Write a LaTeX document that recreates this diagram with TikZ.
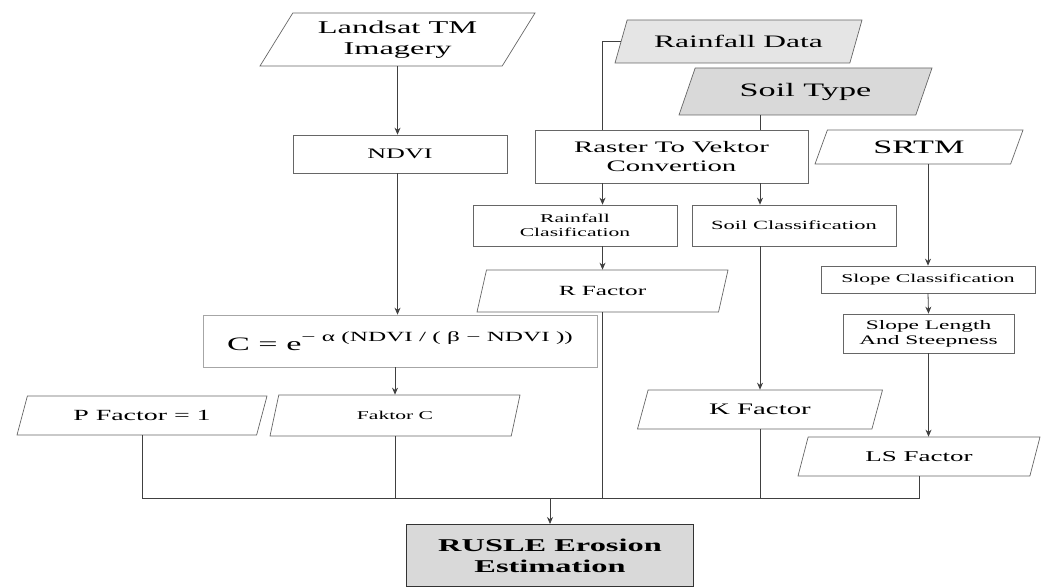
\documentclass[tikz,border=0pt]{standalone}
\usepackage{fontspec}
\setmainfont{Liberation Serif}[FakeStretch=1.8]
\usetikzlibrary{shapes.geometric,arrows.meta,calc}
\newcommand{\fs}[1]{\fontsize{#1}{1.15\dimexpr#1pt\relax}\selectfont}

\begin{document}
\begin{tikzpicture}[x=1pt,y=-1pt,
  box/.style 2 args={draw=black!60,line width=0.7pt,minimum width=#1,minimum height=#2,align=center,inner sep=1pt},
  data/.style 2 args={trapezium,trapezium left angle=50,trapezium right angle=130,trapezium stretches body,
    draw=black!60,line width=0.7pt,minimum width=#1,minimum height=#2,align=center,inner sep=1pt},
  line/.style={black!75,line width=0.8pt},
  arr/.style={line,-{Stealth[length=7pt,width=6pt]}}]
\useasboundingbox (0,0) rectangle (1051,588);
% left branch
\node[data={275}{53},font=\fs{18}] (land) at (397.5,39.5) {Landsat TM\\Imagery};
\node[box={214}{38},font=\fs{14.5}] (ndvi) at (400,154) {NDVI};
\node[box={394}{52},draw=black!35,font=\fs{19}] (form) at (400,341)
  {C = e\raisebox{9pt}{\fs{14}− α (NDVI / ( β − NDVI ))}};
\node[data={250}{41},font=\fs{12}] (fakc) at (395,415.5) {Faktor C};
\node[data={250}{39},font=\fs{15.5}] (pfac) at (142,415.5) {P Factor = 1};
% middle branch
\node[data={247}{43},fill=black!10,font=\fs{17.5}] (rain) at (738.5,41.5) {Rainfall Data};
\node[data={253}{47},fill=black!15,font=\fs{19}] (soil) at (805.5,91.5) {Soil Type};
\node[box={273}{53},font=\fs{16}] (rast) at (671.5,156.5) {Raster To Vektor\\Convertion};
\node[box={204}{41},font=\fs{12}] (rcls) at (575,225.5) {Rainfall\\Clasification};
\node[box={204}{41},font=\fs{12.5}] (scls) at (794,225.5) {Soil Classification};
\node[data={251}{42},font=\fs{14}] (rfac) at (602.5,291) {R Factor};
\node[data={245}{39},font=\fs{16}] (kfac) at (760,409.5) {K Factor};
% right branch
\node[data={208}{34},font=\fs{19}] (srtm) at (919,147) {SRTM};
\node[box={214}{27},font=\fs{12}] (slcl) at (928,279.5) {Slope Classification};
\node[box={171}{39},font=\fs{13}] (slen) at (928.5,333.5) {Slope Length\\And Steepness};
\node[data={242}{39},font=\fs{15}] (lsfa) at (919,456.5) {LS Factor};
\node[box={287}{62},fill=black!15,draw=black!80,line width=1pt,font=\fs{18}\bfseries] (rusle) at (550,555.5) {RUSLE Erosion\\Estimation};
\coordinate (bus) at (0,498);
% connectors
\draw[arr] (land.south) -- (land.south |- ndvi.north);
\draw[arr] (land.south |- ndvi.south) -- (land.south |- form.north);
\draw[arr] (fakc.north |- form.south) -- (fakc.north);
\draw[line] (rain.west) -| (rfac.north |- rast.north);
\draw[arr] (rfac.north |- rast.south) -- (rfac.north |- rcls.north);
\draw[arr] (rfac.north |- rcls.south) -- (rfac.north);
\draw[line] (kfac.north |- soil.south) -- (kfac.north |- rast.north);
\draw[arr] (kfac.north |- rast.south) -- (kfac.north |- scls.north);
\draw[arr] (kfac.north |- scls.south) -- (kfac.north);
\draw[arr] (slcl.north |- srtm.south) -- (slcl.north);
\draw[arr] (slcl.south) -- (slen.north);
\draw[arr] (slen.south) -- (slen.south |- lsfa.north);
\draw[line] (pfac.south) |- (lsfa.south |- bus) -- (lsfa.south);
\foreach \n in {fakc,rfac,kfac}{\draw[line] (\n.south) -- (\n.south |- bus);}
\draw[arr] (rusle.north |- bus) -- (rusle.north);
\end{tikzpicture}
\end{document}
